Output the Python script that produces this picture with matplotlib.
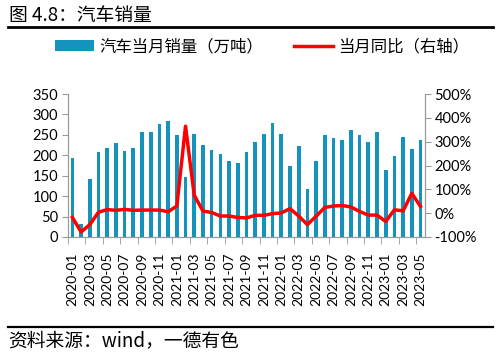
import numpy as np
import matplotlib
matplotlib.use('Agg')
import matplotlib.pyplot as plt
from matplotlib.patches import Patch
from matplotlib.lines import Line2D

plt.rcParams['font.family'] = ['Lato', 'Noto Sans CJK SC', 'DejaVu Sans']

# monthly data 2020-01 .. 2023-05
months = [f'{y}-{m:02d}' for y in range(2020, 2024) for m in range(1, 13)][:41]

sales = [194, 31, 143, 207, 219, 230, 211, 219, 257, 257, 277, 283,
         250, 146, 253, 225, 213, 202, 186, 181, 207, 233, 252, 278,
         253, 174, 223, 118, 186, 250, 242, 238, 261, 250, 232, 256,
         165, 198, 245, 216, 238]

yoy = [-18, -79, -48, 4, 15, 12, 16, 12, 13, 13, 13, 6,
       30, 365, 75, 9, 3, -12, -12, -18, -20, -9, -9, -2,
       1, 19, -12, -48, -13, 24, 30, 32, 26, 7, -8, -8,
       -35, 14, 10, 83, 28]

bar_color = '#1494BC'
line_color = '#FF0000'
axis_color = '#999999'

fig = plt.figure(figsize=(5.04, 3.58), dpi=100)
ax = fig.add_axes([0.135, 0.338, 0.708, 0.3994])
x = np.arange(len(months))

ax.bar(x, sales, width=0.42, color=bar_color)
ax.set_xlim(-0.5, len(months) - 0.5)
ax.set_ylim(0, 350)
ax.set_yticks(range(0, 351, 50))
ax.tick_params(axis='y', labelsize=10.5, length=4, color=axis_color, pad=3)

ax.set_xticks(x[::2])
ax.set_xticklabels(months[::2], rotation=90, fontsize=10)
ax.set_xticks(np.arange(-0.5, len(months), 2), minor=True)
ax.tick_params(axis='x', which='major', length=0, pad=11)
ax.tick_params(axis='x', which='minor', length=5, color=axis_color)

ax2 = ax.twinx()
ax2.plot(x, yoy, color=line_color, linewidth=2.5)
ax2.set_ylim(-100, 500)
ax2.set_yticks(range(-100, 501, 100))
ax2.set_yticklabels([f'{v}%' for v in range(-100, 501, 100)])
ax2.tick_params(axis='y', labelsize=10.5, length=4, color=axis_color, pad=3)

for a in (ax, ax2):
    a.spines['top'].set_visible(False)
    for s in ('left', 'right', 'bottom'):
        a.spines[s].set_color(axis_color)

handles = [Patch(facecolor=bar_color, label='汽车当月销量（万吨）'),
           Line2D([0], [0], color=line_color, lw=2.5, label='当月同比（右轴）')]
fig.legend(handles=handles, loc='center', bbox_to_anchor=(0.52, 0.869), ncol=2,
           frameon=False, handlelength=2.4, handleheight=0.6,
           columnspacing=1.9, handletextpad=0.3,
           prop={'family': ['Noto Sans CJK SC'], 'size': 11.8})

fig.text(0.018, 0.958, '图 4.8：汽车销量', fontsize=13.5, va='center', ha='left',
         family=['Noto Sans CJK SC'])
fig.add_artist(Line2D([0.016, 0.978], [0.925, 0.925], color='black', lw=2))
fig.add_artist(Line2D([0.016, 0.978], [0.0866, 0.0866], color='black', lw=1.6))
fig.text(0.016, 0.047, '资料来源：wind，一德有色', fontsize=13.5, va='center', ha='left',
         family=['Noto Sans CJK SC'])

fig.savefig('out.png', dpi=100)
